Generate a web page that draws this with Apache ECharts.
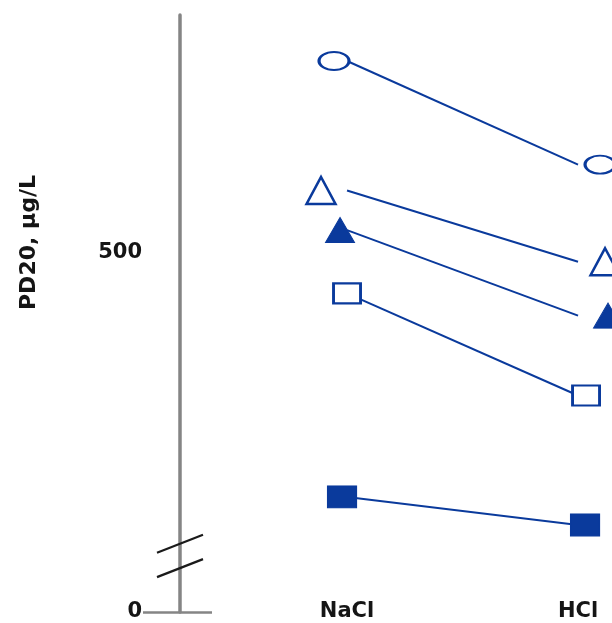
<!DOCTYPE html>
<html>
<head>
<meta charset="utf-8">
<script src="https://cdn.jsdelivr.net/npm/echarts@6/dist/echarts.min.js"></script>
<style>
html,body{margin:0;padding:0;background:#fff;}
#chart{width:612px;height:623px;}
</style>
</head>
<body>
<div id="chart"></div>
<script>
// ---- data ----
const categories = ['NaCl', 'HCl'];
const yTickValues = [0, 500];
const yAxisName = 'PD20, µg/L';
const openCircle = [766, 622];
const openTriangle = [586, 487];
const filledTriangle = [531, 412];
const openSquare = [443, 301];
const filledSquare = [160, 121];

// ---- styles ----
const BLUE = '#0a3a9c';
const AXIS = '#858585';
const FONT = 'DejaVu Sans';
const TEXT = '#151515';

function mk(name, values, symbol, size, filled, offsets) {
  return {
    name: name,
    type: 'line',
    data: values.map((v, i) => ({ value: [i, v], symbolOffset: offsets[i] })),
    symbol: symbol,
    symbolSize: size,
    showAllSymbol: true,
    clip: false,
    lineStyle: { color: BLUE, width: 2 },
    itemStyle: filled
      ? { color: BLUE, borderColor: BLUE, borderWidth: 1 }
      : { color: '#ffffff', borderColor: BLUE, borderWidth: 2.5 },
    emphasis: { disabled: true },
    animation: false
  };
}

const chart = echarts.init(document.getElementById('chart'));
const yMax = 830;
const option = {
  animation: false,
  grid: { left: 180, right: 0, top: 15, bottom: 11, containLabel: false },
  xAxis: {
    type: 'value',
    min: -0.723,
    max: 1.147,
    axisLine: { show: false, onZero: false },
    axisTick: { show: false },
    splitLine: { show: false },
    axisLabel: {
      customValues: [0, 1],
      formatter: v => categories[Math.round(v)] || '',
      margin: 0,
      verticalAlign: 'middle',
      fontFamily: FONT,
      fontWeight: 'bold',
      fontSize: 21,
      color: TEXT
    }
  },
  yAxis: [{
    type: 'value',
    min: 0,
    max: yMax,
    interval: 500,
    name: yAxisName,
    nameLocation: 'middle',
    nameGap: 140,
    nameTextStyle: {
      fontFamily: FONT, fontWeight: 'bold', fontSize: 22, color: TEXT,
      padding: [0, 0, 0, 142]
    },
    axisLine: { show: true, onZero: false, lineStyle: { color: AXIS, width: 3.5 } },
    axisTick: { show: true, customValues: [0], length: 37, lineStyle: { color: AXIS, width: 2.5 } },
    splitLine: { show: false },
    axisLabel: {
      customValues: yTickValues,
      formatter: v => String(v),
      margin: 38,
      fontFamily: FONT,
      fontWeight: 'bold',
      fontSize: 21,
      color: TEXT
    }
  }, {
    type: 'value',
    min: 0,
    max: yMax,
    interval: 500,
    position: 'left',
    axisLine: { show: false, onZero: false },
    axisTick: { show: true, inside: true, customValues: [0], length: 32, lineStyle: { color: AXIS, width: 2.5 } },
    axisLabel: { show: false },
    splitLine: { show: false }
  }],
  series: [
    mk('open circle', openCircle, 'circle', [30, 18], false, [[-13, 0], [22, 0]]),
    mk('open triangle', openTriangle, 'triangle', [29, 27], false, [[-26, 0], [27, 0]]),
    mk('filled triangle', filledTriangle, 'triangle', [29, 25], true, [[-7, 0], [30, 0]]),
    mk('open square', openSquare, 'rect', [27, 20], false, [[0, 0], [8, 0]]),
    mk('filled square', filledSquare, 'rect', [29, 22], true, [[-5, 0], [7, 0]])
  ]
};
chart.setOption(option);

// axis-break marks, placed from the axis scale
const xMin = option.xAxis.min;
const p1 = chart.convertToPixel({ gridIndex: 0 }, [xMin, 95]);
const p2 = chart.convertToPixel({ gridIndex: 0 }, [xMin, 61]);
function slash(p) {
  return {
    type: 'line',
    shape: { x1: p[0] - 23, y1: p[1] + 9, x2: p[0] + 23, y2: p[1] - 9 },
    style: { stroke: '#1a1a1a', lineWidth: 2.2 },
    z: 10
  };
}
chart.setOption({ graphic: [slash(p1), slash(p2)] });
</script>
</body>
</html>
